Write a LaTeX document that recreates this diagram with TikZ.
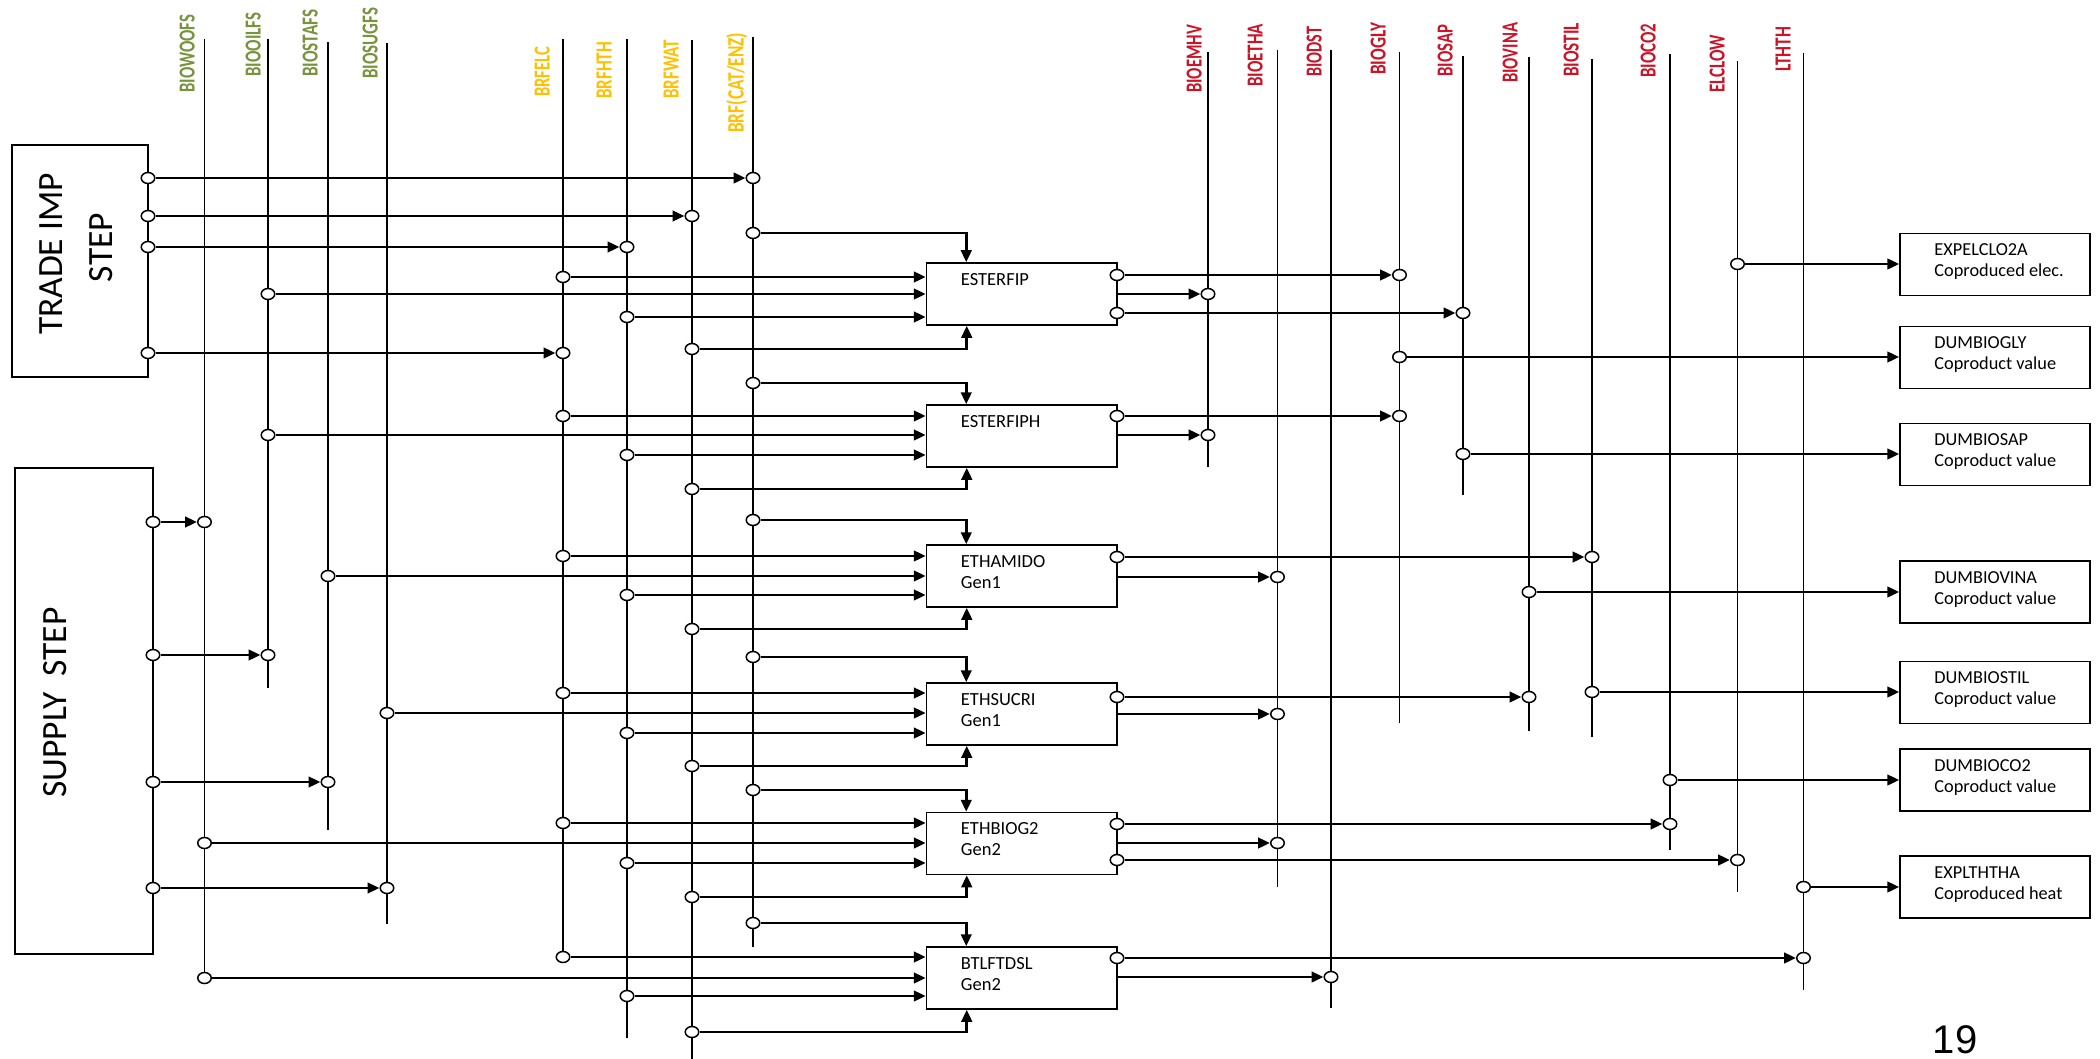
\documentclass[tikz,border=0pt]{standalone}
\usepackage{graphicx}
\usepackage{fontspec}
\setmainfont{Carlito}
\newfontfamily\numfont{Liberation Sans}
\usetikzlibrary{arrows.meta,shapes.geometric,calc}

\definecolor{feedgreen}{RGB}{119,147,60}
\definecolor{feedgold}{RGB}{255,192,0}
\definecolor{feedred}{RGB}{204,20,40}

% commodity name set to a given length and cap height
\newcommand\labtxt[3]{\resizebox{#1pt}{#2pt}{#3}}

\tikzset{
  feed/.style={line width=1.6pt, black},
  flow/.style={line width=2.8pt, black, -{Triangle[length=12pt,width=10.5pt]}},
  thinflow/.style={line width=1.6pt, black},
  port/.style={ellipse, draw, line width=1.5pt, fill=white, minimum width=13.5pt, minimum height=11pt, inner sep=0pt},
  pbox/.style={draw, line width=1.5pt, minimum width=190.5pt, minimum height=62pt, inner sep=0pt},
  obox/.style={draw, line width=1.5pt, minimum width=190pt, minimum height=62pt, inner sep=0pt},
  stepbox/.style={draw, line width=1.5pt, inner sep=0pt},
  lab/.style={rotate=90, anchor=west, inner sep=0pt, text height=15pt, text depth=0pt, font=\fontsize{22}{24}\selectfont\bfseries},
  ptext/.style={anchor=west, inner sep=0pt, text height=11.9pt, text depth=0pt, font=\fontsize{18.5}{21}\selectfont},
  otext/.style={anchor=west, inner sep=0pt, text height=11.8pt, text depth=0pt, font=\fontsize{18.3}{21}\selectfont},
  bigtext/.style={rotate=90, inner sep=0pt, text height=22.9pt, text depth=0pt, font=\fontsize{35.5}{40}\selectfont},
}

\begin{document}
\begin{tikzpicture}[x=1pt,y=-1pt]
\fill[white] (0,0) rectangle (2100,1059);
\useasboundingbox (0,0) rectangle (2100,1059);

% commodity lines
\foreach \n/\x/\t/\b in {wood/204.5/39/978, oil/268/39/688, sta/328/42/830, sug/387/43/924,
  elc/563/39/957, hth/627/39/1038, wat/692/40/1059, cat/753/37/947,
  emhv/1208/52/467, etha/1277.5/50/887, dst/1331/50/1008, gly/1399.5/52/723,
  sap/1463/56/495, vina/1529/57/731, stil/1592/59/737, co2/1670/54/850,
  elclow/1737.5/61/892, ltht/1803.5/53/990}{
  \coordinate (\n-top) at (\x,\t);
  \coordinate (\n-bot) at (\x,\b);
  \draw[feed] (\n-top) -- (\n-bot);
}

% commodity names
\foreach \n/\x/\y/\l/\t in {wood/187/93/78/BIOWOOFS, oil/253/77/64/BIOOILFS,
  sta/310/77/67/BIOSTAFS, sug/370/79/71/BIOSUGFS}
  \node[lab, text=feedgreen] (lab-\n) at (\x,\y) {\labtxt{\l}{15}{\t}};
\foreach \n/\x/\y/\l/\t in {elc/542/97/50/BRFELC, hth/604/99/57/BRFHTH, wat/671/99/59/BRFWAT}
  \node[lab, text=feedgold] (lab-\n) at (\x,\y) {\labtxt{\l}{15}{\t}};
\node[lab, text=feedgold] (lab-cat) at (736,133) {\labtxt{100}{17.4}{BRF(CAT/ENZ)}};
\foreach \n/\x/\y/\l/\t in {emhv/1194/93/68/BIOEMHV, etha/1255/87/63/BIOETHA, dst/1314/77/50/BIODST,
  gly/1378/75/52/BIOGLY, sap/1445/77/52/BIOSAP, vina/1510/83/60/BIOVINA, stil/1571/77/54/BIOSTIL,
  co2/1648/78/54/BIOCO2, elclow/1717/93/58/ELCLOW, ltht/1783/72/45/LTHTH}
  \node[lab, text=feedred] (lab-\n) at (\x,\y) {\labtxt{\l}{15}{\t}};

% source steps
\node[stepbox, minimum width=136pt, minimum height=232pt] (trade) at (80,261) {};
\node[bigtext] (trade-1) at (51,254) {TRADE IMP};
\node[bigtext] (trade-2) at (101.5,247.5) {STEP};
\node[stepbox, minimum width=138pt, minimum height=486pt] (supply) at (84,711) {};
\node[bigtext] (supply-1) at (55,702.5) {SUPPLY\ \ STEP};

% processes
\node[pbox] (esterfip)  at (1021.75,294) {};
\node[pbox] (esterfiph) at (1021.75,436) {};
\node[pbox] (ethamido)  at (1021.75,576) {};
\node[pbox] (ethsucri)  at (1021.75,714) {};
\node[pbox] (ethbiog)   at (1021.75,843.5) {};
\node[pbox] (btlftdsl)  at (1021.75,978) {};
\node[ptext] (esterfip-1)  at ($(esterfip.north west)+(35,17)$) {ESTERFIP};
\node[ptext] (esterfiph-1) at ($(esterfiph.north west)+(35,17)$) {ESTERFIPH};
\node[ptext] (ethamido-1)  at ($(ethamido.north west)+(35,17)$) {ETHAMIDO};
\node[ptext] (ethamido-2)  at ($(ethamido.north west)+(35,38)$) {Gen1};
\node[ptext] (ethsucri-1)  at ($(ethsucri.north west)+(35,17)$) {ETHSUCRI};
\node[ptext] (ethsucri-2)  at ($(ethsucri.north west)+(35,38)$) {Gen1};
\node[ptext] (ethbiog-1)   at ($(ethbiog.north west)+(35,17)$) {ETHBIOG2};
\node[ptext] (ethbiog-2)   at ($(ethbiog.north west)+(35,38)$) {Gen2};
\node[ptext] (btlftdsl-1)  at ($(btlftdsl.north west)+(35,17)$) {BTLFTDSL};
\node[ptext] (btlftdsl-2)  at ($(btlftdsl.north west)+(35,38)$) {Gen2};

% coproduct sinks
\node[obox] (expelc)    at (1995,264.5) {};
\node[obox] (dumgly)    at (1995,357.5) {};
\node[obox] (dumsap)    at (1995,454.5) {};
\node[obox] (dumvina)   at (1995,592) {};
\node[obox] (dumstil)   at (1995,692.5) {};
\node[obox] (dumco2)    at (1995,780) {};
\node[obox] (expltht)   at (1995,887) {};
\foreach \b/\a/\c in {expelc/EXPELCLO2A/Coproduced elec., dumgly/DUMBIOGLY/Coproduct value,
  dumsap/DUMBIOSAP/Coproduct value, dumvina/DUMBIOVINA/Coproduct value,
  dumstil/DUMBIOSTIL/Coproduct value, dumco2/DUMBIOCO2/Coproduct value,
  expltht/EXPLTHTHA/Coproduced heat}{
  \node[otext] (\b-1) at ($(\b.north west)+(35,17)$) {\a};
  \node[otext] (\b-2) at ($(\b.north west)+(35,38)$) {\c};
}

% ports on the step boxes
\foreach \n/\y in {tr1/178, tr2/216, tr3/247, tr4/353}
  \node[port] (\n) at (148,\y) {};
\foreach \n/\y in {su1/522, su2/655, su3/782, su4/888}
  \node[port] (\n) at (153,\y) {};

% ports on the commodity lines
\foreach \n/\x/\y in {
  wood-a/204.5/522, wood-1/204.5/843, wood-2/204.5/978,
  oil-a/268/655, oil-1/268/294, oil-2/268/435,
  sta-a/328/782, sta-1/328/576,
  sug-a/387/888, sug-1/387/713,
  elc-a/563/353, elc-1/563/277, elc-2/563/416, elc-3/563/556, elc-4/563/693, elc-5/563/823, elc-6/563/957,
  hth-a/627/247, hth-1/627/317, hth-2/627/455, hth-3/627/595, hth-4/627/733, hth-5/627/863, hth-6/627/996,
  wat-a/692/216, wat-1/692/349, wat-2/692/489, wat-3/692/629, wat-4/692/766, wat-5/692/897, wat-6/692/1032,
  cat-a/753/178, cat-1/753/233, cat-2/753/383, cat-3/753/520, cat-4/753/657, cat-5/753/790, cat-6/753/923,
  emhv-1/1208/294, emhv-2/1208/435,
  etha-1/1277.5/577, etha-2/1277.5/714, etha-3/1277.5/843,
  dst-1/1331/977,
  gly-1/1399.5/275, gly-2/1399.5/416, gly-3/1399.5/357,
  sap-1/1463/313, sap-2/1463/454,
  vina-1/1529/697, vina-2/1529/592,
  stil-1/1592/557, stil-2/1592/692,
  co2-1/1670/824, co2-2/1670/780,
  elclow-1/1737.5/860, elclow-2/1737.5/264,
  ltht-1/1803.5/958, ltht-2/1803.5/887}
  \node[port] (\n) at (\x,\y) {};

% ports on the process outputs
\foreach \n/\y in {es-o1/275, es-o3/313, esh-o1/416, am-o1/557, sc-o1/697, bg-o1/824, bg-o3/860, bt-o1/958}
  \node[port] (\n) at (1117,\y) {};

% imports and supply
\draw[flow] (tr1) -- (cat-a);
\draw[flow] (tr2) -- (wat-a);
\draw[flow] (tr3) -- (hth-a);
\draw[flow] (tr4) -- (elc-a);
\draw[flow] (su1) -- (wood-a);
\draw[flow] (su2) -- (oil-a);
\draw[flow] (su3) -- (sta-a);
\draw[flow] (su4) -- (sug-a);

% process inputs
\foreach \p/\t/\la/\lb/\lc/\b in {
  esterfip/cat-1/elc-1/oil-1/hth-1/wat-1,
  esterfiph/cat-2/elc-2/oil-2/hth-2/wat-2,
  ethamido/cat-3/elc-3/sta-1/hth-3/wat-3,
  ethsucri/cat-4/elc-4/sug-1/hth-4/wat-4,
  ethbiog/cat-5/elc-5/wood-1/hth-5/wat-5,
  btlftdsl/cat-6/elc-6/wood-2/hth-6/wat-6}{
  \draw[flow] (\t) -| ($(\p.north west)+(40.5,0)$);
  \draw[flow] (\la) -- (\la -| \p.west);
  \draw[flow] (\lb) -- (\lb -| \p.west);
  \draw[flow] (\lc) -- (\lc -| \p.west);
  \draw[flow] (\b) -| ($(\p.south west)+(41,0)$);
}

% process outputs
\draw[flow] (es-o1) -- (gly-1);
\draw[flow] (emhv-1 -| esterfip.east) -- (emhv-1);
\draw[flow] (es-o3) -- (sap-1);
\draw[flow] (esh-o1) -- (gly-2);
\draw[flow] (emhv-2 -| esterfiph.east) -- (emhv-2);
\draw[flow] (am-o1) -- (stil-1);
\draw[flow] (etha-1 -| ethamido.east) -- (etha-1);
\draw[flow] (sc-o1) -- (vina-1);
\draw[flow] (etha-2 -| ethsucri.east) -- (etha-2);
\draw[flow] (bg-o1) -- (co2-1);
\draw[flow] (etha-3 -| ethbiog.east) -- (etha-3);
\draw[flow] (bg-o3) -- (elclow-1);
\draw[flow] (bt-o1) -- (ltht-1);
\draw[flow] (dst-1 -| btlftdsl.east) -- (dst-1);

% coproducts to sinks
\draw[flow] (elclow-2) -- (elclow-2 -| expelc.west);
\draw[flow] (gly-3) -- (gly-3 -| dumgly.west);
\coordinate (sap-jog) at (1684,454);
\draw[thinflow] (sap-2) -- (sap-jog);
\draw[flow] (sap-jog) -- (sap-jog -| dumsap.west);
\draw[flow] (vina-2) -- (vina-2 -| dumvina.west);
\draw[flow] (stil-2) -- (stil-2 -| dumstil.west);
\draw[flow] (co2-2) -- (co2-2 -| dumco2.west);
\draw[flow] (ltht-2) -- (ltht-2 -| expltht.west);

% page number
\node[font=\numfont\fontsize{40}{46}\selectfont, inner sep=0pt] (pageno) at (1955,1040) {19};
\end{tikzpicture}
\end{document}
